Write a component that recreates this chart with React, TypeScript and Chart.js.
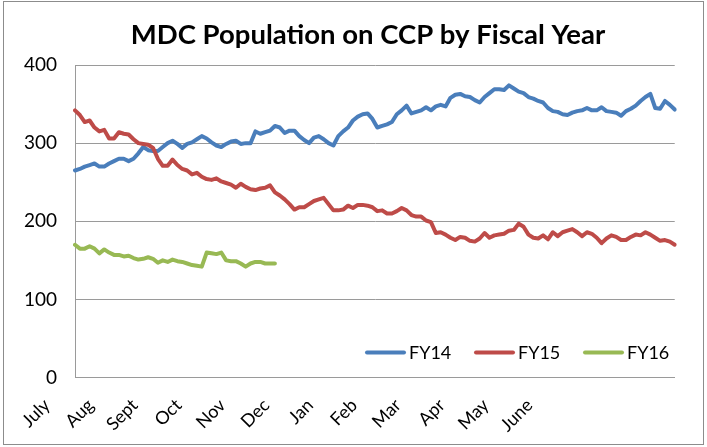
import React, { useEffect, useRef } from "react";
import { Chart, registerables } from "chart.js";

Chart.register(...registerables);

const chartTitle = "MDC Population on CCP by Fiscal Year";
const months = ["July", "Aug", "Sept", "Oct", "Nov", "Dec", "Jan", "Feb", "Mar", "Apr", "May", "June"];
const pointsPerLabel = 9;
const pointCount = 124;
const yMin = 0;
const yMax = 400;
const yStep = 100;
const seriesNames = ["FY14", "FY15", "FY16"];
const seriesColors = ["#4A7EBB", "#BE4B48", "#98B954"];

const fy14 = [
  265, 267, 270, 272, 274, 270, 270, 274, 277, 280,
  280, 277, 280, 287, 295, 291, 290, 290, 295, 300,
  303, 299, 294, 299, 301, 305, 309, 306, 301, 297,
  295, 299, 302, 303, 299, 300, 300, 315, 312, 314,
  316, 322, 320, 313, 316, 316, 309, 304, 300, 307,
  309, 305, 300, 297, 309, 315, 320, 329, 334, 337,
  338, 331, 320, 322, 324, 327, 337, 342, 348, 338,
  340, 342, 346, 342, 347, 349, 347, 358, 362, 363,
  360, 359, 355, 352, 359, 364, 369, 369, 368, 374,
  370, 366, 364, 359, 357, 354, 352, 345, 341, 340,
  337, 336, 339, 341, 342, 345, 342, 342, 346, 341,
  340, 339, 335, 341, 344, 348, 354, 359, 363, 345,
  344, 354, 349, 343,
];

const fy15 = [
  342, 336, 327, 329, 320, 315, 317, 306, 306, 314,
  312, 311, 305, 300, 299, 298, 294, 280, 271, 271,
  279, 272, 267, 265, 260, 262, 257, 254, 253, 255,
  251, 249, 247, 243, 248, 244, 241, 240, 242, 243,
  246, 237, 233, 228, 222, 215, 218, 218, 222, 226,
  228, 230, 222, 214, 214, 215, 220, 217, 221, 221,
  220, 218, 213, 214, 210, 210, 213, 217, 214, 208,
  206, 206, 201, 199, 185, 186, 183, 179, 176, 180,
  179, 175, 174, 178, 185, 179, 182, 183, 184, 188,
  189, 197, 193, 183, 179, 178, 182, 177, 186, 181,
  186, 188, 190, 186, 181, 186, 184, 179, 172, 178,
  182, 180, 176, 176, 180, 183, 182, 186, 183, 179,
  175, 176, 174, 170,
];

const fy16 = [
  170, 165, 165, 168, 165, 159, 164, 160, 157, 157,
  155, 156, 153, 151, 152, 154, 152, 147, 150, 148,
  151, 149, 148, 146, 144, 143, 142, 160, 159, 158,
  160, 150, 149, 149, 146, 142, 146, 148, 148, 146,
  146, 146,
];

const seriesValues = [fy14, fy15, fy16];

const categoryLabels: string[] = Array.from({ length: pointCount }, (_, i) =>
  i % pointsPerLabel === 0 && i / pointsPerLabel < months.length ? months[i / pointsPerLabel] : ""
);

const FONT = "Lato, 'Open Sans', sans-serif";

const framePlugin = {
  id: "frame",
  beforeDraw(chart: any) {
    const ctx = chart.ctx;
    ctx.save();
    ctx.fillStyle = "#ffffff";
    ctx.fillRect(0, 0, chart.width, chart.height);
    ctx.restore();
  },
  afterDraw(chart: any) {
    const ctx = chart.ctx;
    ctx.save();
    ctx.strokeStyle = "#8c8c8c";
    ctx.lineWidth = 1;
    ctx.strokeRect(3.5, 1.5, 700, 443);
    ctx.fillStyle = "#000";
    ctx.font = `bold 27.5px ${FONT}`;
    ctx.textAlign = "center";
    ctx.textBaseline = "middle";
    ctx.fillText(chartTitle, 368, 35);
    ctx.restore();
  },
};

const insideLegendPlugin = {
  id: "insideLegend",
  afterDatasetsDraw(chart: any) {
    const ctx = chart.ctx;
    const area = chart.chartArea;
    ctx.save();
    ctx.font = `18px ${FONT}`;
    ctx.textBaseline = "middle";
    ctx.textAlign = "left";
    const y = area.bottom - 25;
    let x = area.left + 292;
    chart.data.datasets.forEach((ds: any) => {
      ctx.strokeStyle = ds.borderColor;
      ctx.lineWidth = 4;
      ctx.lineCap = "round";
      ctx.beginPath();
      ctx.moveTo(x, y);
      ctx.lineTo(x + 37, y);
      ctx.stroke();
      ctx.fillStyle = "#000";
      ctx.fillText(ds.label, x + 42, y + 1);
      x += 109;
    });
    ctx.restore();
  },
};

export default function App() {
  const canvasRef = useRef<HTMLCanvasElement | null>(null);

  useEffect(() => {
    if (!canvasRef.current) return;
    const chart = new Chart(canvasRef.current, {
      type: "line",
      data: {
        labels: categoryLabels,
        datasets: seriesNames.map((name, i) => ({
          label: name,
          data: seriesValues[i],
          borderColor: seriesColors[i],
          backgroundColor: seriesColors[i],
          borderWidth: 4,
          pointRadius: 0,
          tension: 0,
          fill: false,
          borderJoinStyle: "round" as const,
          borderCapStyle: "round" as const,
          order: seriesNames.length - i,
        })),
      },
      options: {
        responsive: false,
        animation: false,
        events: [],
        layout: { padding: { left: 0, right: 24, top: 65, bottom: 0 } },
        plugins: {
          legend: { display: false },
          tooltip: { enabled: false },
          title: { display: false },
        },
        scales: {
          x: {
            type: "category",
            grid: { display: false, drawTicks: false },
            border: { display: true, color: "#9a9a9a", width: 1 },
            ticks: {
              autoSkip: false,
              maxRotation: 45,
              minRotation: 45,
              labelOffset: -28,
              padding: 17,
              color: "#000",
              font: { family: FONT, size: 18 },
            },
            afterFit: (s: any) => {
              s.height = 69.4;
            },
          },
          y: {
            min: yMin,
            max: yMax,
            ticks: {
              stepSize: yStep,
              padding: 18,
              color: "#000",
              font: { family: FONT, size: 19 },
            },
            grid: { color: "#9a9a9a", drawTicks: false, lineWidth: 1 },
            border: { display: true, color: "#9a9a9a", width: 1 },
            afterFit: (s: any) => {
              s.width = 75;
            },
          },
        },
      },
      plugins: [framePlugin, insideLegendPlugin],
    });
    return () => chart.destroy();
  }, []);

  return (
    <div style={{ position: "absolute", left: 0, top: 0, width: 707, height: 447 }}>
      <canvas ref={canvasRef} width={707} height={447} style={{ display: "block" }} />
    </div>
  );
}
